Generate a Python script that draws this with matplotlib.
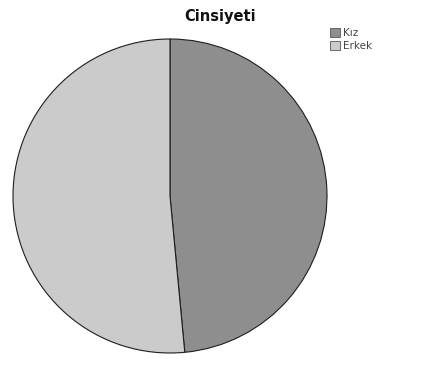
import matplotlib
matplotlib.use("Agg")
import matplotlib.pyplot as plt
from matplotlib.patches import Patch

labels = ["Kız", "Erkek"]
values = [48.5, 51.5]
colors = ["#8e8e8e", "#cbcbcb"]

W, H = 429, 370
fig = plt.figure(figsize=(W / 100, H / 100), dpi=100)
fig.patch.set_facecolor("white")

cx, cy, r = 170, 196, 157
ax = fig.add_axes([(cx - r) / W, (H - cy - r) / H, 2 * r / W, 2 * r / H])
ax.pie(values, colors=colors, startangle=90, counterclock=False,
       wedgeprops=dict(edgecolor="#1e1e1e", linewidth=0.8))
ax.set_xlim(-1, 1)
ax.set_ylim(-1, 1)
ax.set_aspect("equal")
ax.axis("off")

fig.text(220 / W, 1 - 16 / H, "Cinsiyeti", ha="center", va="center",
         fontsize=10.5, fontweight="bold", family="DejaVu Sans", color="#111111")

handles = [Patch(facecolor=c, edgecolor="#555555", linewidth=0.6) for c in colors]
fig.legend(handles, labels, loc="upper left", bbox_to_anchor=(330 / W, 1 - 28 / H),
           frameon=False, fontsize=7.5, handlelength=0.95, handleheight=0.95,
           handletextpad=0.25, labelspacing=0.25, borderpad=0, borderaxespad=0,
           labelcolor="#444444")

fig.savefig("out.png", dpi=100)
